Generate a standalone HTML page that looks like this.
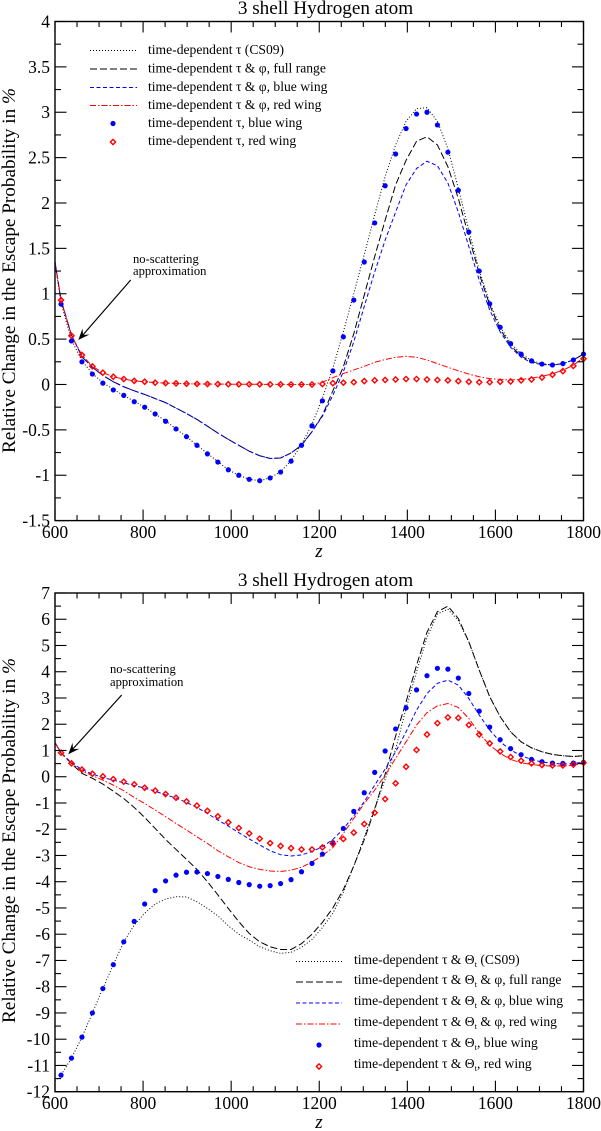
<!DOCTYPE html>
<html lang="en">
<head>
<meta charset="utf-8">
<title>3 shell Hydrogen atom</title>
<style>
html,body{margin:0;padding:0;background:#fff}
svg{display:block;font-family:"Liberation Serif","DejaVu Serif",serif;fill:#000}
</style>
</head>
<body>
<svg id="fig" xmlns="http://www.w3.org/2000/svg" width="601" height="1131" viewBox="0 0 601 1131">
<rect x="0" y="0" width="601" height="1131" fill="#fff"/>

<text x="325.5" y="14" font-size="19.2" text-anchor="middle">3 shell Hydrogen atom</text>
<text transform="translate(15,453) rotate(-90)" font-size="19.2">Relative Change in the Escape Probability in <tspan font-style="italic">%</tspan></text>
<text x="319" y="557" font-size="19" font-style="italic" text-anchor="middle">z</text>

<text x="325.5" y="586" font-size="19.2" text-anchor="middle">3 shell Hydrogen atom</text>
<text transform="translate(15,1023) rotate(-90)" font-size="19.2">Relative Change in the Escape Probability in <tspan font-style="italic">%</tspan></text>
<text x="319" y="1128" font-size="19" font-style="italic" text-anchor="middle">z</text>

<g id="top-marks"></g>
<g id="bottom-marks"></g>
<g id="top-axes"></g>
<g id="bottom-axes"></g>

<g font-size="13.6">
  <g><line x1="90" x2="137" y1="50.5" y2="50.5" stroke="#000" stroke-width="1" stroke-dasharray="1 2"/><text x="148" y="54">time-dependent τ (CS09)</text></g>
  <g><line x1="90" x2="137" y1="69" y2="69" stroke="#000" stroke-width="1" stroke-dasharray="7 3"/><text x="148" y="72.5">time-dependent τ &amp; φ, full range</text></g>
  <g><line x1="90" x2="137" y1="87.5" y2="87.5" stroke="#00f" stroke-width="1" stroke-dasharray="4 2.5"/><text x="148" y="91">time-dependent τ &amp; φ, blue wing</text></g>
  <g><line x1="90" x2="137" y1="105.5" y2="105.5" stroke="#f00" stroke-width="1" stroke-dasharray="6 2 1.5 2"/><text x="148" y="109">time-dependent τ &amp; φ, red wing</text></g>
  <g><circle cx="113" cy="123.5" r="2.6" fill="#00f"/><text x="148" y="127">time-dependent τ, blue wing</text></g>
  <g><path d="M113 139.4 L115.6 142 L113 144.6 L110.4 142 Z" fill="none" stroke="#f00" stroke-width="1.4"/><text x="148" y="145">time-dependent τ, red wing</text></g>
</g>

<g font-size="13.6">
  <g><line x1="296" x2="342" y1="961.5" y2="961.5" stroke="#000" stroke-width="1" stroke-dasharray="1 2"/><text x="354" y="964">time-dependent τ &amp; Θ<tspan font-size="8.5" dy="3">t</tspan><tspan dy="-3"> (CS09)</tspan></text></g>
  <g><line x1="296" x2="342" y1="982" y2="982" stroke="#000" stroke-width="1" stroke-dasharray="7 3"/><text x="354" y="984">time-dependent τ &amp; Θ<tspan font-size="8.5" dy="3">t</tspan><tspan dy="-3"> &amp; φ, full range</tspan></text></g>
  <g><line x1="296" x2="342" y1="1003" y2="1003" stroke="#00f" stroke-width="1" stroke-dasharray="4 2.5"/><text x="354" y="1005">time-dependent τ &amp; Θ<tspan font-size="8.5" dy="3">t</tspan><tspan dy="-3"> &amp; φ, blue wing</tspan></text></g>
  <g><line x1="296" x2="342" y1="1024" y2="1024" stroke="#f00" stroke-width="1" stroke-dasharray="6 2 1.5 2"/><text x="354" y="1026">time-dependent τ &amp; Θ<tspan font-size="8.5" dy="3">t</tspan><tspan dy="-3"> &amp; φ, red wing</tspan></text></g>
  <g><circle cx="319" cy="1045" r="2.6" fill="#00f"/><text x="354" y="1047">time-dependent τ &amp; Θ<tspan font-size="8.5" dy="3">t</tspan><tspan dy="-3">, blue wing</tspan></text></g>
  <g><path d="M319 1063.9 L321.6 1066.5 L319 1069.1 L316.4 1066.5 Z" fill="none" stroke="#f00" stroke-width="1.4"/><text x="354" y="1068">time-dependent τ &amp; Θ<tspan font-size="8.5" dy="3">t</tspan><tspan dy="-3">, red wing</tspan></text></g>
</g>

<g>
  <text x="133" y="263" font-size="12.6">no-scattering</text>
  <text x="133" y="275" font-size="12.6">approximation</text>
  <line x1="130.7" y1="280" x2="82" y2="336" stroke="#000" stroke-width="1.2"/>
  <path d="M78.3 340 L82.5 328.5 L83 335 L89.5 334.5 Z" fill="#000"/>
</g>
<g>
  <text x="110" y="673" font-size="12.6">no-scattering</text>
  <text x="110" y="686" font-size="12.6">approximation</text>
  <line x1="121.7" y1="695" x2="72" y2="750" stroke="#000" stroke-width="1.2"/>
  <path d="M68.3 754.3 L72.5 742.8 L73 749.3 L79.5 748.8 Z" fill="#000"/>
</g>
</svg>

<script>
// Shared z sampling of the marker series; the curves add z = 600 at the start.
const markerZ = [613.7,637.4,661.2,684.9,708.7,732.4,756.1,779.9,803.6,827.4,851.1,874.8,898.6,922.3,946.1,969.8,993.5,1017.3,1041,1064.8,1088.5,1112.2,1136,1159.7,1183.5,1207.2,1230.9,1254.7,1278.4,1302.2,1325.9,1349.6,1373.4,1397.1,1420.9,1444.6,1468.3,1492.1,1515.8,1539.6,1563.3,1587,1610.8,1634.5,1658.3,1682,1705.7,1729.5,1753.2,1777,1800];
const lineZ = [600].concat(markerZ);

// Top panel
const topCs09 = [1.35,.9,.49,.26,.12,.02,-.055,-.12,-.185,-.25,-.325,-.4,-.49,-.575,-.67,-.76,-.85,-.94,-1,-1.045,-1.06,-1.03,-.96,-.84,-.66,-.44,-.15,.18,.58,1,1.43,1.87,2.29,2.64,2.9,3.04,3.05,2.9,2.6,2.16,1.7,1.26,.9,.64,.455,.34,.265,.228,.215,.23,.27,.335];
const topFull = [1.35,.93,.545,.305,.19,.1,.03,-.025,-.07,-.11,-.155,-.2,-.26,-.32,-.385,-.46,-.535,-.605,-.67,-.735,-.785,-.815,-.81,-.755,-.67,-.52,-.34,-.07,.195,.56,.985,1.41,1.81,2.2,2.47,2.68,2.73,2.64,2.4,2.05,1.63,1.22,.875,.61,.43,.315,.25,.225,.215,.23,.27,.335];
const topBlue = [1.35,.93,.545,.305,.19,.1,.03,-.025,-.07,-.11,-.155,-.2,-.26,-.32,-.385,-.46,-.535,-.605,-.67,-.735,-.785,-.815,-.81,-.755,-.67,-.52,-.35,-.12,.14,.47,.86,1.24,1.59,1.9,2.2,2.38,2.46,2.41,2.22,1.9,1.52,1.15,.82,.58,.41,.3,.24,.22,.213,.23,.27,.335];
const topRed = [1.35,.93,.537,.325,.2,.13,.085,.06,.04,.03,.02,.015,.012,.008,.006,.005,.004,.003,.002,.002,.002,.001,.001,0,0,0,.025,.075,.12,.16,.2,.245,.275,.3,.31,.3,.27,.23,.19,.15,.115,.085,.065,.055,.05,.055,.07,.09,.118,.158,.213,.294];
const topBlueMarkers = [.886,.48,.25,.115,.015,-.06,-.12,-.19,-.25,-.325,-.405,-.49,-.575,-.67,-.765,-.855,-.94,-1,-1.045,-1.06,-1.03,-.965,-.845,-.67,-.455,-.18,.15,.525,.93,1.35,1.78,2.19,2.54,2.82,2.98,3,2.86,2.56,2.14,1.68,1.25,.89,.63,.45,.335,.26,.225,.215,.23,.27,.335];
const topRedMarkers = [.93,.537,.325,.2,.13,.085,.06,.04,.03,.02,.015,.012,.008,.006,.005,.004,.003,.002,.002,.002,.001,.001,0,0,0,.005,.015,.02,.025,.037,.045,.05,.055,.06,.06,.055,.05,.045,.037,.03,.025,.025,.03,.033,.045,.055,.077,.107,.147,.205,.283];
const topYTickLabels = ["-1.5","-1","-0.5","0","0.5","1","1.5","2","2.5","3","3.5","4"];

// Bottom panel
const botCs09 = [-11.6,-11.37,-10.72,-9.92,-9,-8.07,-7.16,-6.29,-5.65,-5.2,-4.85,-4.66,-4.57,-4.58,-4.76,-5.02,-5.3,-5.68,-6,-6.22,-6.48,-6.63,-6.73,-6.69,-6.5,-6.2,-5.75,-5.2,-4.4,-3.4,-2.3,-1.2,-.1,1.05,2.6,4,5.3,6.2,6.38,5.95,5.14,4.06,3.05,2.29,1.71,1.33,1.1,.95,.85,.8,.77,.8];
const botFull = [1.3,.9,.5,.13,-.06,-.28,-.55,-.83,-1.17,-1.55,-1.97,-2.39,-2.77,-3.15,-3.53,-4,-4.5,-5.02,-5.52,-5.97,-6.29,-6.48,-6.58,-6.58,-6.36,-6,-5.55,-5,-4.3,-3.4,-2.4,-1.25,.1,1.55,2.85,4.25,5.5,6.29,6.5,6.03,5.14,4.06,3.05,2.29,1.71,1.33,1.1,.95,.85,.8,.77,.8];
const botBlue = [1.3,.92,.53,.28,.1,-.03,-.13,-.23,-.34,-.43,-.55,-.69,-.81,-.98,-1.17,-1.4,-1.65,-1.88,-2.13,-2.37,-2.6,-2.82,-2.97,-3.02,-2.98,-2.85,-2.67,-2.39,-1.99,-1.49,-.95,-.32,.29,.95,1.71,2.54,3.17,3.56,3.68,3.49,2.98,2.35,1.78,1.33,1.02,.8,.66,.56,.51,.48,.51,.55];
const botRed = [1.3,.92,.5,.23,.04,-.13,-.32,-.53,-.79,-1.02,-1.27,-1.52,-1.78,-2.03,-2.29,-2.54,-2.82,-3.05,-3.27,-3.43,-3.53,-3.59,-3.61,-3.56,-3.45,-3.25,-3,-2.7,-2.16,-1.59,-1.02,-.51,.06,.7,1.33,1.97,2.44,2.7,2.79,2.64,2.22,1.65,1.21,.89,.66,.53,.47,.42,.41,.41,.43,.53];
const botBlueMarkers = [-11.37,-10.72,-9.92,-9,-8.07,-7.16,-6.29,-5.51,-4.85,-4.34,-3.97,-3.75,-3.64,-3.63,-3.69,-3.8,-3.91,-4.03,-4.11,-4.17,-4.15,-4.07,-3.92,-3.62,-3.3,-2.95,-2.51,-1.97,-1.32,-.61,.165,.98,1.82,2.62,3.31,3.85,4.13,4.1,3.76,3.17,2.5,1.89,1.41,1.07,.84,.66,.57,.52,.51,.52,.55];
const botRedMarkers = [.915,.51,.27,.115,.015,-.09,-.19,-.29,-.42,-.53,-.66,-.8,-.94,-1.1,-1.3,-1.51,-1.74,-1.955,-2.16,-2.36,-2.53,-2.64,-2.72,-2.77,-2.77,-2.69,-2.55,-2.37,-2.13,-1.8,-1.37,-.85,-.25,.38,1.02,1.61,2.04,2.26,2.24,1.97,1.61,1.27,.965,.75,.61,.51,.445,.43,.43,.46,.53];
const botYTickLabels = ["-12","-11","-10","-9","-8","-7","-6","-5","-4","-3","-2","-1","0","1","2","3","4","5","6","7"];

const xTickLabels = ["600","800","1000","1200","1400","1600","1800"];

const NS = "http://www.w3.org/2000/svg";
const frameLeft = 55, frameRight = 583.5;
function xScale(z){ return frameLeft + (z - 600) * (frameRight - frameLeft) / 1200; }
function makeYScale(vMin, vMax, pxBottom, pxTop){
  return function(v){ return pxBottom - (v - vMin) * (pxBottom - pxTop) / (vMax - vMin); };
}
function make(tag, attrs, parent){
  const el = document.createElementNS(NS, tag);
  for (const k in attrs) el.setAttribute(k, attrs[k]);
  parent.appendChild(el);
  return el;
}
function drawLine(parent, name, zs, values, y, color, dash){
  const pts = zs.map(function(z, i){ return xScale(z).toFixed(2) + "," + y(values[i]).toFixed(2); }).join(" ");
  const el = make("polyline", {points: pts, fill: "none", stroke: color, "stroke-width": 1, "stroke-dasharray": dash}, parent);
  
  
}
function drawStars(parent, name, zs, values, y){
  zs.forEach(function(z, i){
    const el = make("circle", {cx: xScale(z).toFixed(2), cy: y(values[i]).toFixed(2), r: 2.6, fill: "#00f"}, parent);
    
    
  });
}
function drawDiamonds(parent, name, zs, values, y){
  zs.forEach(function(z, i){
    const cx = xScale(z), cy = y(values[i]), s = 2.6;
    const d = "M" + cx + " " + (cy - s) + " L" + (cx + s) + " " + cy + " L" + cx + " " + (cy + s) + " L" + (cx - s) + " " + cy + " Z";
    const el = make("path", {d: d, fill: "none", stroke: "#f00", "stroke-width": 1.4}, parent);
    
    
  });
}
function drawAxes(parent, y, yLabels, yStepMinor, pxBottom, pxTop, labelBaseline){
  const frame = make("rect", {x: frameLeft, y: pxTop, width: frameRight - frameLeft, height: pxBottom - pxTop, fill: "none", stroke: "#000", "stroke-width": 1.4}, parent);
  
  
  const tickStyle = {stroke: "#000", "stroke-width": 1.1};
  function tick(x1, y1, x2, y2){
    const el = make("line", Object.assign({x1: x1, y1: y1, x2: x2, y2: y2}, tickStyle), parent);
    
    
  }
  for (let z = 600; z <= 1800; z += 50){
    const major = (z % 200 === 0);
    const len = major ? 11 : 5.5;
    const x = xScale(z);
    tick(x, pxBottom, x, pxBottom - len);
    tick(x, pxTop, x, pxTop + len);
  }
  xTickLabels.forEach(function(label){
    const t = make("text", {x: xScale(parseFloat(label)), y: labelBaseline, "font-size": 17.5, "text-anchor": "middle"}, parent);
    
    
    t.textContent = label;
  });
  const first = parseFloat(yLabels[0]);
  const last = parseFloat(yLabels[yLabels.length - 1]);
  const count = Math.round((last - first) / yStepMinor);
  for (let i = 0; i <= count; i++){
    const v = first + i * yStepMinor;
    const len = (i % 2 === 0) ? 11.5 : 6;
    const py = y(v);
    tick(frameLeft, py, frameLeft + len, py);
    tick(frameRight, py, frameRight - len, py);
  }
  yLabels.forEach(function(label){
    const t = make("text", {x: 50, y: y(parseFloat(label)) + 6, "font-size": 17.5, "text-anchor": "end"}, parent);
    
    
    t.textContent = label;
  });
}

const dotted = "1 2", longDash = "7 3", shortDash = "4 2.5", dashDot = "6 2 1.5 2";

const yTop = makeYScale(-1.5, 4, 520.6, 21.5);
const topMarks = document.getElementById("top-marks");
drawLine(topMarks, "line-cs09", lineZ, topCs09, yTop, "#000", dotted);
drawLine(topMarks, "line-full-range", lineZ, topFull, yTop, "#000", longDash);
drawLine(topMarks, "line-blue-wing", lineZ, topBlue, yTop, "#00f", shortDash);
drawLine(topMarks, "line-red-wing", lineZ, topRed, yTop, "#f00", dashDot);
drawStars(topMarks, "point-blue-wing", markerZ, topBlueMarkers, yTop);
drawDiamonds(topMarks, "point-red-wing", markerZ, topRedMarkers, yTop);
drawAxes(document.getElementById("top-axes"), yTop, topYTickLabels, 0.25, 520.6, 21.5, 538);

const yBot = makeYScale(-12, 7, 1091.7, 593);
const botMarks = document.getElementById("bottom-marks");
drawLine(botMarks, "line-cs09", lineZ, botCs09, yBot, "#000", dotted);
drawLine(botMarks, "line-full-range", lineZ, botFull, yBot, "#000", longDash);
drawLine(botMarks, "line-blue-wing", lineZ, botBlue, yBot, "#00f", shortDash);
drawLine(botMarks, "line-red-wing", lineZ, botRed, yBot, "#f00", dashDot);
drawStars(botMarks, "point-blue-wing", markerZ, botBlueMarkers, yBot);
drawDiamonds(botMarks, "point-red-wing", markerZ, botRedMarkers, yBot);
drawAxes(document.getElementById("bottom-axes"), yBot, botYTickLabels, 0.5, 1091.7, 593, 1109);
</script>
</body>
</html>
